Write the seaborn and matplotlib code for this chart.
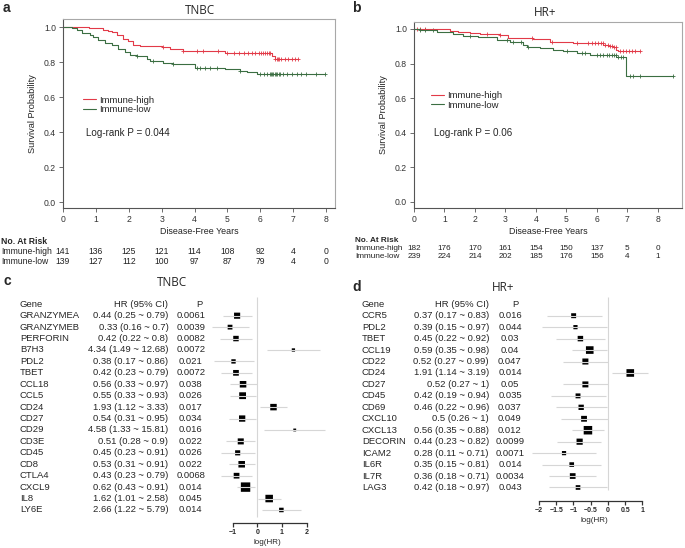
import numpy as np
import pandas as pd
import matplotlib
matplotlib.use("Agg")
import matplotlib.pyplot as plt
import matplotlib.transforms as mtransforms
import seaborn as sns

# ---- Kaplan-Meier curves (years, survival) ----
tnbc_high_t = [0, 0.78, 1.23, 1.38, 1.48, 1.65, 1.83, 1.99, 2.14, 2.34, 3.0, 3.25, 3.66, 4.92, 6.34, 6.44]
tnbc_high_s = [1.0, 0.993, 0.985, 0.978, 0.97, 0.953, 0.934, 0.92, 0.90, 0.89, 0.887, 0.877, 0.864, 0.849, 0.834, 0.82]
tnbc_high_end = 7.15
tnbc_high_cens = [3.05, 3.66, 4.07, 4.27, 4.72, 4.98, 5.2, 5.35, 5.5, 5.62, 5.75, 5.85, 5.95, 6.02,
                  6.08, 6.15, 6.2, 6.26, 6.3, 6.46, 6.5, 6.54, 6.58, 6.62, 6.75, 6.85, 6.95, 7.05, 7.15]

tnbc_low_t = [0, 0.26, 0.42, 0.57, 0.82, 0.92, 1.07, 1.28, 1.48, 1.68, 1.88, 2.04, 2.24, 2.54, 2.64,
              3.05, 3.35, 4.01, 4.92, 5.38, 5.58, 5.89]
tnbc_low_s = [1.0, 0.996, 0.981, 0.966, 0.953, 0.943, 0.928, 0.911, 0.896, 0.877, 0.858, 0.84, 0.834,
              0.815, 0.807, 0.792, 0.787, 0.768, 0.758, 0.751, 0.741, 0.732]
tnbc_low_end = 7.96
tnbc_low_cens = [2.24, 2.74, 3.35, 4.07, 4.17, 4.32, 4.47, 4.68, 5.38, 6.0, 6.1, 6.2, 6.28, 6.32, 6.36,
                 6.4, 6.44, 6.48, 6.52, 6.56, 6.6, 6.7, 6.8, 6.95, 7.1, 7.25, 7.4, 7.7, 7.96]

hr_high_t = [0, 1.18, 1.45, 1.84, 2.16, 2.82, 3.09, 3.91, 4.46, 5.22, 6.21, 6.37, 6.53, 6.64, 6.7]
hr_high_s = [1.0, 0.988, 0.981, 0.975, 0.971, 0.963, 0.946, 0.94, 0.926, 0.92, 0.907, 0.90, 0.893, 0.878, 0.872]
hr_high_end = 7.41
hr_high_cens = [0.09, 0.2, 0.36, 2.38, 2.82, 3.86, 4.51, 5.33, 5.72, 5.85, 5.95, 6.05, 6.12, 6.2, 6.28,
                6.35, 6.42, 6.5, 6.56, 6.62, 6.75, 6.85, 6.95, 7.05, 7.15, 7.25, 7.41]

hr_low_t = [0, 0.2, 0.74, 1.29, 1.62, 2.11, 2.71, 3.15, 3.58, 3.69, 4.13, 4.57, 4.9, 5.33, 5.77, 6.64, 6.92, 6.94]
hr_low_s = [1.0, 0.994, 0.981, 0.969, 0.959, 0.951, 0.936, 0.922, 0.907, 0.893, 0.887, 0.878, 0.872, 0.858,
            0.849, 0.839, 0.835, 0.73]
hr_low_end = 8.5
hr_low_cens = [0.2, 0.36, 0.63, 1.84, 3.04, 3.26, 3.5, 3.75, 5.01, 5.5, 5.6, 5.99, 6.1, 6.2, 6.32, 6.4,
               6.48, 6.55, 6.62, 6.7, 6.78, 6.86, 7.08, 7.19, 7.41, 8.5]

risk_years = [0, 1, 2, 3, 4, 5, 6, 7, 8]
tnbc_risk_high = [141, 136, 125, 121, 114, 108, 92, 4, 0]
tnbc_risk_low = [139, 127, 112, 100, 97, 87, 79, 4, 0]
hr_risk_high = [182, 176, 170, 161, 154, 150, 137, 5, 0]
hr_risk_low = [239, 224, 214, 202, 185, 176, 156, 4, 1]

# ---- Cox results ----
genes_c = ["GRANZYMEA", "GRANZYMEB", "PERFORIN", "B7H3", "PDL2", "TBET", "CCL18", "CCL5", "CD24",
           "CD27", "CD29", "CD3E", "CD45", "CD8", "CTLA4", "CXCL9", "IL8", "LY6E"]
hr_c = [0.44, 0.33, 0.42, 4.34, 0.38, 0.42, 0.56, 0.55, 1.93, 0.54, 4.58, 0.51, 0.45, 0.53, 0.43, 0.62, 1.62, 2.66]
lo_c = [0.25, 0.16, 0.22, 1.49, 0.17, 0.23, 0.33, 0.33, 1.12, 0.31, 1.33, 0.28, 0.23, 0.31, 0.23, 0.43, 1.01, 1.22]
hi_c = [0.79, 0.7, 0.8, 12.68, 0.86, 0.79, 0.97, 0.93, 3.33, 0.95, 15.81, 0.9, 0.91, 0.91, 0.79, 0.91, 2.58, 5.79]
p_c = ["0.0061", "0.0039", "0.0082", "0.0072", "0.021", "0.0072", "0.038", "0.026", "0.017", "0.034",
       "0.016", "0.022", "0.026", "0.022", "0.0068", "0.014", "0.045", "0.014"]

genes_d = ["CCR5", "PDL2", "TBET", "CCL19", "CD22", "CD24", "CD27", "CD45", "CD69", "CXCL10", "CXCL13",
           "DECORIN", "ICAM2", "IL6R", "IL7R", "LAG3"]
hr_d = [0.37, 0.39, 0.45, 0.59, 0.52, 1.91, 0.52, 0.42, 0.46, 0.5, 0.56, 0.44, 0.28, 0.35, 0.36, 0.42]
lo_d = [0.17, 0.15, 0.22, 0.35, 0.27, 1.14, 0.27, 0.19, 0.22, 0.26, 0.35, 0.23, 0.11, 0.15, 0.18, 0.18]
hi_d = [0.83, 0.97, 0.92, 0.98, 0.99, 3.19, 1, 0.94, 0.96, 1, 0.88, 0.82, 0.71, 0.81, 0.71, 0.97]
p_d = ["0.016", "0.044", "0.03", "0.04", "0.047", "0.014", "0.05", "0.035", "0.037", "0.049", "0.012",
       "0.0099", "0.0071", "0.014", "0.0034", "0.043"]

RED = "#e23a48"
GREEN = "#3b6e42"
CI_GREY = "#d6d6d6"

sns.set_theme(style="white")
plt.rcParams["font.family"] = ["Liberation Sans", "DejaVu Sans"]

fig = plt.figure(figsize=(6.85, 5.48), dpi=100)
W, H = 685.0, 548.0


def px_axes(left, top, right, bottom):
    return fig.add_axes([left / W, 1 - bottom / H, (right - left) / W, (bottom - top) / H])


def km_panel(ax, curves, xmax, ylim):
    for t, s, end, cens, color, label in curves:
        df = pd.DataFrame({"t": list(t) + [end], "s": list(s) + [s[-1]]})
        sns.lineplot(data=df, x="t", y="s", drawstyle="steps-post", estimator=None, sort=False,
                     color=color, lw=0.8, label=label, ax=ax)
        idx = np.searchsorted(t, cens, side="right") - 1
        sns.scatterplot(x=cens, y=np.asarray(s)[idx], marker="+", color=color, s=12,
                        linewidth=0.6, legend=False, ax=ax)
    ax.set_xlim(0, xmax)
    ax.set_ylim(*ylim)
    ax.set_xticks(risk_years)
    ax.set_yticks([0, 0.2, 0.4, 0.6, 0.8, 1.0])
    ax.set_yticklabels(["0.0", "0.2", "0.4", "0.6", "0.8", "1.0"])
    ax.tick_params(axis="both", direction="out", length=3, width=0.6, color="#555555",
                   labelsize=6.2, labelcolor="#333333", pad=2, left=True, bottom=True)
    for side in ["top", "right"]:
        ax.spines[side].set_color("#a8a8a8")
        ax.spines[side].set_linewidth(0.8)
    for side in ["left", "bottom"]:
        ax.spines[side].set_color("#555555")
        ax.spines[side].set_linewidth(0.8)
    ax.set_xlabel("Disease-Free Years", fontsize=6.4, color="#222222", labelpad=2)
    ax.set_ylabel("Survival Probability", fontsize=6.6, color="#222222", labelpad=5)


# ---- panel a ----
ax_a = px_axes(63, 19, 335, 208)
km_panel(ax_a, [(tnbc_high_t, tnbc_high_s, tnbc_high_end, tnbc_high_cens, RED, "Immune-high"),
                (tnbc_low_t, tnbc_low_s, tnbc_low_end, tnbc_low_cens, GREEN, "Immune-low")],
         8.27, (-0.034, 1.046))
ax_a.legend(loc="upper left", bbox_to_anchor=(0.075, 0.595), frameon=False, fontsize=6.8,
            handlelength=1.3, handletextpad=0.4, labelspacing=0.1, borderpad=0, borderaxespad=0)
ax_a.text(0.085, 0.397, "Log-rank P = 0.044", transform=ax_a.transAxes, fontsize=7.1, va="center")

# ---- panel b ----
ax_b = px_axes(414, 22, 682, 208)
km_panel(ax_b, [(hr_high_t, hr_high_s, hr_high_end, hr_high_cens, RED, "Immune-high"),
                (hr_low_t, hr_low_s, hr_low_end, hr_low_cens, GREEN, "Immune-low")],
         8.79, (-0.035, 1.04))
ax_b.legend(loc="upper left", bbox_to_anchor=(0.065, 0.63), frameon=False, fontsize=6.8,
            handlelength=1.3, handletextpad=0.4, labelspacing=0.1, borderpad=0, borderaxespad=0)
ax_b.text(0.075, 0.403, "Log-rank P = 0.06", transform=ax_b.transAxes, fontsize=7.1, va="center")


def risk_table(ax, label_x, y_head, y_rows, high, low, fs):
    tr = mtransforms.blended_transform_factory(ax.transData, fig.transFigure)
    fig.text(label_x / W, 1 - y_head / H, "No. At Risk", fontsize=fs, fontweight="bold", va="center")
    for y, name, vals in zip(y_rows, ["Immune-high", "Immune-low"], [high, low]):
        fig.text(label_x / W, 1 - y / H, name, fontsize=fs, va="center", color="#222222")
        for yr, v in zip(risk_years, vals):
            ax.text(yr, 1 - y / H, str(v), transform=tr, fontsize=fs, ha="center", va="center",
                    color="#222222")


risk_table(ax_a, 1, 241, [251, 261], tnbc_risk_high, tnbc_risk_low, 6.2)
risk_table(ax_b, 355, 240, [248, 256], hr_risk_high, hr_risk_low, 5.9)


def forest(ax, genes, hr, lo, hi, p, k, xlim, ticks, row_top, row_bottom, zero_end, cols):
    rows = np.arange(len(genes))
    df = pd.DataFrame({"row": rows, "loghr": np.log(hr), "loglo": np.log(lo), "loghi": np.log(hi)})
    ax.vlines(0, row_top, zero_end, color=CI_GREY, lw=0.8)
    ax.hlines(df["row"], df["loglo"], df["loghi"], color=CI_GREY, lw=0.8)
    weight = 3.92 / (df["loghi"] - df["loglo"])
    side = k * weight * 0.72
    sns.scatterplot(data=df, x="loghr", y="row", marker="s", s=side ** 2, color="black",
                    linewidth=0, legend=False, snap=False, ax=ax)
    ax.set_xlim(*xlim)
    ax.set_ylim(row_bottom, row_top)
    ax.set_xticks(ticks)
    ax.set_xticklabels([f"{t:g}".replace("-", "\u2212") for t in ticks])
    ax.set_yticks([])
    ax.set_xlabel("log(HR)", fontsize=5.8, labelpad=2)
    ax.set_ylabel("")
    for s in ["left", "top", "right"]:
        ax.spines[s].set_visible(False)
    ax.spines["bottom"].set_bounds(ticks[0], ticks[-1])
    ax.spines["bottom"].set_linewidth(0.9)
    ax.spines["bottom"].set_color("#333333")
    ax.tick_params(axis="x", direction="out", length=3, width=0.9, color="#333333",
                   labelsize=5, pad=1.5, bottom=True)
    for lab in ax.get_xticklabels():
        lab.set_fontweight("bold")
    ax.patch.set_alpha(0)

    tr = mtransforms.blended_transform_factory(fig.transFigure, ax.transData)
    gx, hx, px_, phead = cols
    fs = 6.8
    ax.text(gx / W, -1, "Gene", transform=tr, fontsize=fs, va="center", ha="left")
    ax.text(hx / W, -1, "HR (95% CI)", transform=tr, fontsize=fs, va="center", ha="right")
    ax.text(phead / W, -1, "P", transform=tr, fontsize=fs, va="center", ha="center")
    for r, g, h, l, u, pv in zip(rows, genes, hr, lo, hi, p):
        ax.text(gx / W, r, g, transform=tr, fontsize=fs, va="center", ha="left")
        ax.text(hx / W, r, f"{h:g} ({l:g} ~ {u:g})", transform=tr, fontsize=fs, va="center", ha="right")
        ax.text(px_ / W, r, pv, transform=tr, fontsize=fs, va="center", ha="center")


# ---- panel c ----
ax_c = px_axes(203.2, 297, 331.1, 523)
forest(ax_c, genes_c, hr_c, lo_c, hi_c, p_c, 1.8, (-2.2, 3.0), [-1, 0, 1, 2],
       -1.636, 18.14, 17.6, (20, 168.5, 190.7, 199))

# ---- panel d ----
ax_d = px_axes(528.6, 297, 659.7, 501)
forest(ax_d, genes_d, hr_d, lo_d, hi_d, p_d, 2.0, (-2.3, 1.5), [-2, -1.5, -1, -0.5, 0, 0.5, 1],
       -1.633, 16.18, 15.2, (362, 489, 510, 515.7))

# ---- titles and panel letters ----
title_font = ["Open Sans", "DejaVu Sans"]
fig.text(200 / W, 1 - 10 / H, "TNBC", fontsize=8.5, ha="center", va="center", family=title_font)
fig.text(545 / W, 1 - 12 / H, "HR+", fontsize=8.5, ha="center", va="center", family=title_font)
fig.text(172 / W, 1 - 282 / H, "TNBC", fontsize=8.5, ha="center", va="center", family=title_font)
fig.text(503 / W, 1 - 287 / H, "HR+", fontsize=8.5, ha="center", va="center", family=title_font)
fig.text(3 / W, 1 - 8 / H, "a", fontsize=10, fontweight="bold", va="center")
fig.text(352 / W, 1 - 8 / H, "b", fontsize=10, fontweight="bold", va="center")
fig.text(3 / W, 1 - 281 / H, "c", fontsize=10, fontweight="bold", va="center")
fig.text(352 / W, 1 - 287 / H, "d", fontsize=10, fontweight="bold", va="center")

fig.savefig("out.png", dpi=100)
